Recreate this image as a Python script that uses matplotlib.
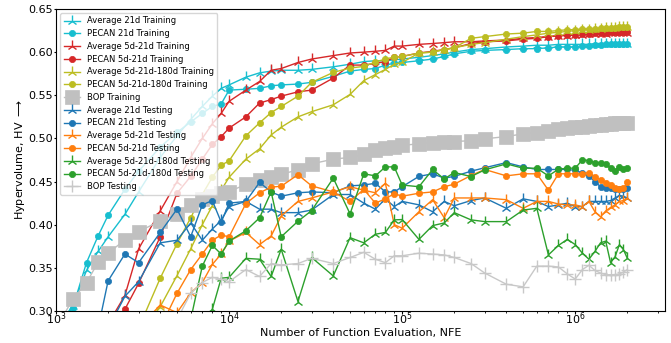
import numpy as np
import matplotlib
matplotlib.use("Agg")
import matplotlib.pyplot as plt

nan = np.nan

# NFE grid
nfe = [1000, 1250, 1500, 1750, 2000, 2500, 3000, 4000, 5000, 6000, 7000, 8000, 9000,
       10000, 12500, 15000, 17500, 20000, 25000, 30000, 40000, 50000, 60000, 70000, 80000, 90000,
       100000, 125000, 150000, 175000, 200000, 250000, 300000, 400000, 500000, 600000, 700000, 800000, 900000,
       1000000, 1100000, 1200000, 1300000, 1400000, 1500000, 1600000, 1700000, 1800000, 1900000, 2000000]

avg21_train = [0.28, 0.306, 0.347, 0.369, 0.386, 0.412, 0.438, 0.478, 0.503, 0.522, 0.537, 0.549, 0.558,
               0.562, 0.571, 0.576, 0.578, 0.579, 0.579, 0.580, 0.583, 0.586, 0.589, 0.590, 0.590, 0.591,
               0.592, 0.594, 0.596, 0.598, 0.600, 0.603, 0.604, 0.606, 0.607, 0.608, 0.608, 0.609, 0.609,
               0.609, 0.609, 0.609, 0.610, 0.610, 0.610, 0.610, 0.610, 0.610, 0.610, 0.610]
pecan21_train = [0.28, 0.304, 0.356, 0.387, 0.411, 0.441, 0.462, 0.490, 0.507, 0.519, 0.529, 0.537, 0.540,
                 0.556, 0.557, 0.558, 0.561, 0.562, 0.563, 0.565, 0.572, 0.578, 0.580, 0.581, 0.585, 0.587,
                 0.588, 0.590, 0.592, 0.595, 0.598, 0.601, 0.602, 0.603, 0.604, 0.604, 0.605, 0.606, 0.606,
                 0.606, 0.607, 0.607, 0.608, 0.608, 0.609, 0.609, 0.609, 0.610, 0.610, 0.610]
avg5_21_train = [nan, nan, nan, nan, 0.285, 0.318, 0.372, 0.416, 0.450, 0.478, 0.500, 0.517, 0.529,
                 0.543, 0.556, 0.566, 0.579, 0.581, 0.588, 0.592, 0.596, 0.599, 0.600, 0.601, 0.602, 0.607,
                 0.607, 0.609, 0.610, 0.611, 0.612, 0.612, 0.613, 0.614, 0.616, 0.617, 0.618, 0.619, 0.619,
                 0.620, 0.620, 0.621, 0.621, 0.621, 0.621, 0.622, 0.622, 0.622, 0.622, 0.622]
pecan5_21_train = [nan, nan, nan, nan, 0.27, 0.302, 0.332, 0.386, 0.4365, 0.456, 0.476, 0.493, 0.502,
                   0.512, 0.525, 0.541, 0.545, 0.549, 0.554, 0.556, 0.570, 0.585, 0.585, 0.587, 0.589, 0.594,
                   0.595, 0.599, 0.601, 0.603, 0.605, 0.610, 0.612, 0.613, 0.615, 0.616, 0.618, 0.619, 0.620,
                   0.620, 0.621, 0.621, 0.622, 0.622, 0.622, 0.623, 0.623, 0.623, 0.623, 0.623]
avg5_21_180_train = [nan, nan, nan, nan, nan, nan, 0.27, 0.305, 0.341, 0.372, 0.400, 0.422, 0.440,
                     0.455, 0.476, 0.488, 0.504, 0.513, 0.525, 0.531, 0.539, 0.551, 0.567, 0.574, 0.580, 0.586,
                     0.588, 0.599, 0.600, 0.603, 0.605, 0.609, 0.611, 0.615, 0.618, 0.620, 0.622, 0.623, 0.624,
                     0.625, 0.626, 0.626, 0.627, 0.627, 0.628, 0.628, 0.628, 0.629, 0.629, 0.629]
pecan5_21_180_train = [nan, nan, nan, nan, nan, nan, 0.28, 0.338, 0.378, 0.408, 0.435, 0.455, 0.469,
                       0.474, 0.503, 0.518, 0.530, 0.537, 0.549, 0.565, 0.5765, 0.5816, 0.5834, 0.5885, 0.592, 0.5943,
                       0.595, 0.599, 0.600, 0.603, 0.605, 0.616, 0.618, 0.621, 0.622, 0.624, 0.624, 0.625, 0.626,
                       0.626, 0.627, 0.627, 0.627, 0.628, 0.628, 0.628, 0.628, 0.629, 0.629, 0.629]
bop_train = [0.28, 0.3136, 0.3328, 0.3565, 0.367, 0.3824, 0.392, 0.4044, 0.4122, 0.423, 0.4296, 0.4334, 0.4365,
             0.4384, 0.4467, 0.4514, 0.4549, 0.4584, 0.4636, 0.4705, 0.476, 0.478, 0.4816, 0.4862, 0.4891, 0.4906,
             0.492, 0.4937, 0.4952, 0.496, 0.4964, 0.4974, 0.4995, 0.5022, 0.5053, 0.5068, 0.5088, 0.5108, 0.512,
             0.5131, 0.5138, 0.5146, 0.5154, 0.5158, 0.5166, 0.517, 0.5173, 0.5178, 0.5181, 0.5184]

avg21_test = [nan, nan, nan, nan, 0.28, 0.317, 0.334, 0.379, 0.382, 0.402, 0.382, 0.395, 0.405,
              0.421, 0.427, 0.418, 0.418, 0.414, 0.414, 0.417, 0.435, 0.435, 0.425, 0.418, 0.430, 0.421,
              0.427, 0.423, 0.415, 0.427, 0.422, 0.428, 0.431, 0.419, 0.430, 0.427, 0.421, 0.423, 0.425,
              0.421, 0.421, 0.427, 0.427, 0.427, 0.427, 0.428, 0.431, 0.434, 0.433, 0.431]
pecan21_test = [nan, nan, nan, 0.28, 0.335, 0.366, 0.356, 0.391, 0.418, 0.386, 0.423, 0.428, 0.403,
                0.425, 0.427, 0.449, 0.438, 0.433, 0.437, 0.438, 0.437, 0.445, 0.446, 0.448, 0.438, 0.438,
                0.444, 0.456, 0.459, 0.454, 0.456, 0.462, 0.466, 0.472, 0.467, 0.464, 0.464, 0.464, 0.464,
                0.463, 0.460, 0.456, 0.450, 0.444, 0.443, 0.442, 0.441, 0.441, 0.441, 0.442]
avg5_21_test = [nan, nan, nan, nan, nan, nan, 0.28, 0.307, 0.298, 0.321, 0.333, 0.354, 0.366,
                0.381, 0.391, 0.377, 0.387, 0.410, 0.427, 0.431, 0.438, 0.444, 0.440, 0.437, 0.448, 0.400,
                0.396, 0.415, 0.429, 0.408, 0.431, 0.431, 0.431, 0.429, 0.419, 0.427, 0.427, 0.424, 0.423,
                0.423, 0.421, 0.427, 0.415, 0.409, 0.416, 0.420, 0.423, 0.427, 0.428, 0.431]
pecan5_21_test = [nan, nan, nan, nan, nan, nan, nan, 0.28, 0.3205, 0.348, 0.366, 0.382, 0.388,
                  0.386, 0.4245, 0.437, 0.4435, 0.4446, 0.458, 0.445, 0.438, 0.427, 0.441, 0.425, 0.430, 0.436,
                  0.433, 0.4365, 0.438, 0.444, 0.447, 0.457, 0.464, 0.4566, 0.459, 0.459, 0.440, 0.459, 0.459,
                  0.459, 0.459, 0.4605, 0.4558, 0.452, 0.448, 0.446, 0.4423, 0.4412, 0.4423, 0.449]
avg5_21_180_test = [nan, nan, nan, nan, nan, nan, nan, nan, nan, nan, 0.27, 0.302, 0.338,
                    0.339, 0.361, 0.360, 0.340, 0.3716, 0.311, 0.362, 0.3406, 0.385, 0.379, 0.389, 0.391, 0.4056,
                    0.406, 0.383, 0.399, 0.402, 0.414, 0.4056, 0.4036, 0.4036, 0.417, 0.419, 0.365, 0.376, 0.383,
                    0.377, 0.367, 0.360, 0.369, 0.379, 0.381, 0.356, 0.363, 0.377, 0.371, 0.361]
pecan5_21_180_test = [nan, nan, nan, nan, nan, nan, nan, nan, nan, 0.29, 0.352, 0.376, 0.366,
                      0.381, 0.393, 0.408, 0.438, 0.386, 0.404, 0.4164, 0.454, 0.4125, 0.459, 0.4566, 0.467, 0.467,
                      0.446, 0.444, 0.464, 0.453, 0.4605, 0.4558, 0.4636, 0.4705, 0.4655, 0.4655, 0.4566, 0.4644, 0.4655,
                      0.4655, 0.4752, 0.4744, 0.472, 0.472, 0.4705, 0.4655, 0.4628, 0.4674, 0.4644, 0.4655]
bop_test = [nan, nan, nan, nan, nan, nan, nan, nan, 0.29, 0.3205, 0.333, 0.339, 0.337,
            0.334, 0.348, 0.340, 0.355, 0.3534, 0.355, 0.361, 0.355, 0.362, 0.368, 0.360, 0.356, 0.364,
            0.364, 0.367, 0.366, 0.365, 0.362, 0.355, 0.344, 0.331, 0.328, 0.352, 0.352, 0.351, 0.343,
            0.337, 0.348, 0.353, 0.347, 0.344, 0.342, 0.342, 0.342, 0.343, 0.345, 0.348]

series = [
    ("Average 21d Training", avg21_train, "#17becf", "2"),
    ("PECAN 21d Training", pecan21_train, "#17becf", "o"),
    ("Average 5d-21d Training", avg5_21_train, "#d62728", "2"),
    ("PECAN 5d-21d Training", pecan5_21_train, "#d62728", "o"),
    ("Average 5d-21d-180d Training", avg5_21_180_train, "#bcbd22", "2"),
    ("PECAN 5d-21d-180d Training", pecan5_21_180_train, "#bcbd22", "o"),
    ("BOP Training", bop_train, "#c0c0c0", "s"),
    ("Average 21d Testing", avg21_test, "#1f77b4", "2"),
    ("PECAN 21d Testing", pecan21_test, "#1f77b4", "o"),
    ("Average 5d-21d Testing", avg5_21_test, "#ff7f0e", "2"),
    ("PECAN 5d-21d Testing", pecan5_21_test, "#ff7f0e", "o"),
    ("Average 5d-21d-180d Testing", avg5_21_180_test, "#2ca02c", "2"),
    ("PECAN 5d-21d-180d Testing", pecan5_21_180_test, "#2ca02c", "o"),
    ("BOP Testing", bop_test, "#c8c8c8", "+"),
]

fig = plt.figure(figsize=(6.71, 3.43), dpi=100)
ax = fig.add_axes([0.0835, 0.0933, 0.9075, 0.8805])

for label, vals, color, marker in series:
    ms = {"2": 8, "o": 4.5, "s": 9.5, "+": 8}[marker]
    ax.plot(nfe, vals, color=color, marker=marker, markersize=ms, linewidth=1.0,
            markeredgewidth=1.0 if marker in ("2", "+") else 0.5, label=label)

ax.set_xscale("log")
ax.set_xlim(1e3, 3.3e6)
ax.set_ylim(0.30, 0.65)
ax.set_yticks(np.arange(0.30, 0.651, 0.05))
ax.tick_params(which="major", labelsize=8)
ax.xaxis.set_tick_params(which="major", length=2, pad=-2.5)
ax.xaxis.set_tick_params(which="minor", length=1.5)
ax.yaxis.set_tick_params(which="major", length=1.5, pad=0.6)
ax.set_xlabel("Number of Function Evaluation, NFE", fontsize=8, labelpad=1)
ax.set_ylabel(r"Hypervolume, HV $\longrightarrow$", fontsize=8, labelpad=1)
ax.legend(loc="upper left", fontsize=6, framealpha=0.8, numpoints=1, labelspacing=0.45)

fig.savefig("out.png", dpi=100)
